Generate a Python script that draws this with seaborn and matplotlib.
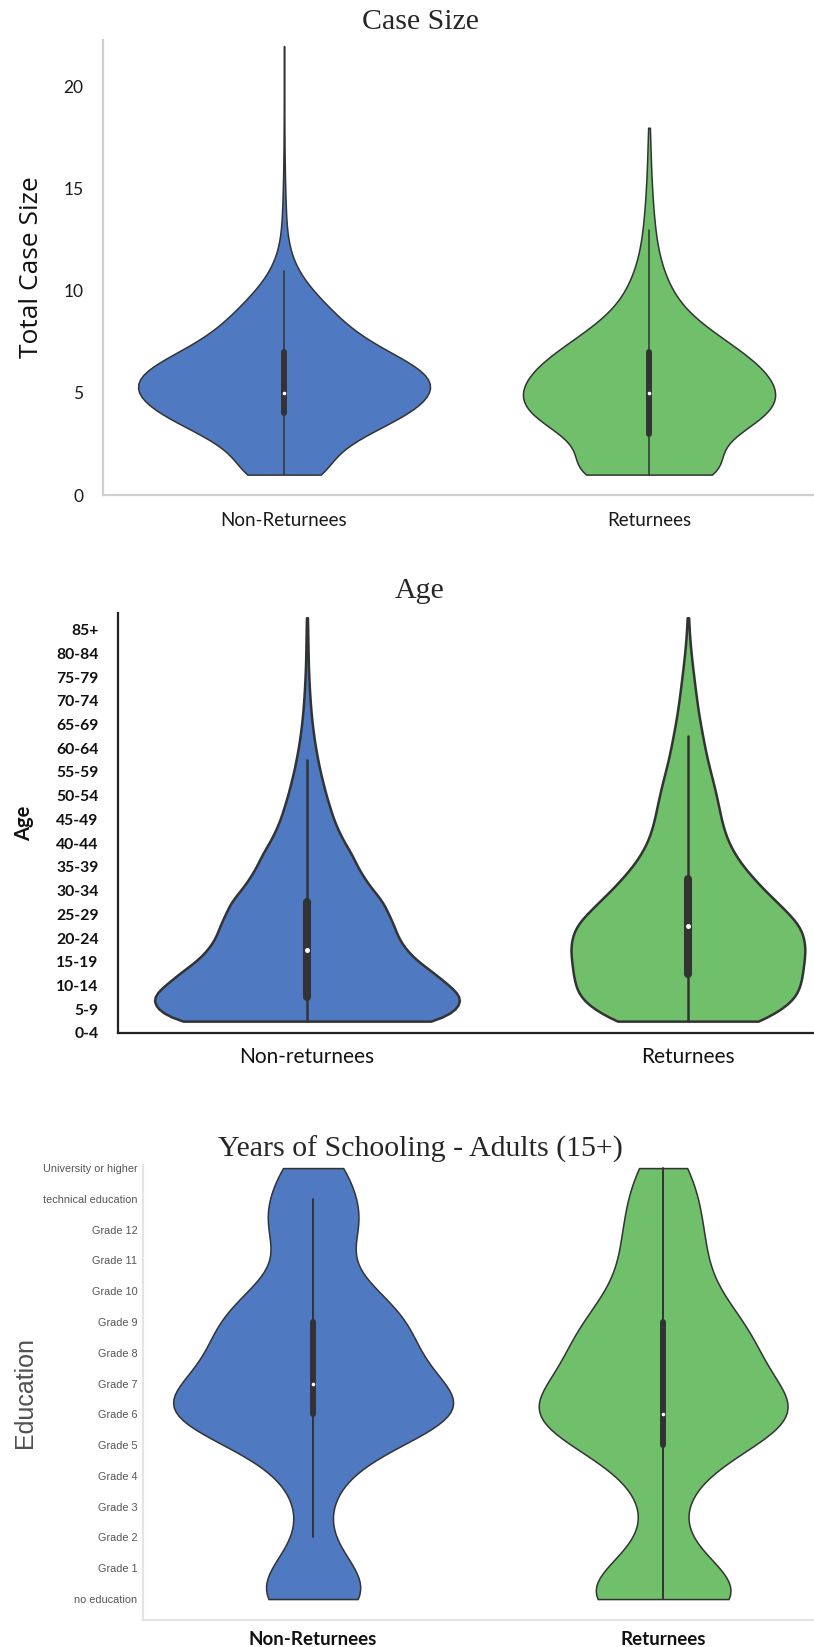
import numpy as np
import pandas as pd
import matplotlib
matplotlib.use("Agg")
import matplotlib.pyplot as plt
import seaborn as sns

sns.set_theme(style="white")
plt.rcParams["font.family"] = ["Lato", "DejaVu Sans"]

BLUE = "#4f79c0"
GREEN = "#6fbf6b"
OUTLINE = "#333333"
SANS = ["Lato", "DejaVu Sans"]
SERIF = ["Liberation Serif", "DejaVu Serif"]
ARIAL = ["Liberation Sans", "DejaVu Sans"]

# ---- Case size: number of cases with each total size ----
case_groups = ["Non-Returnees", "Returnees"]
case_size_values = [1, 2, 3, 4, 5, 6, 7, 8, 9, 10, 11, 12, 13, 14, 15, 16, 17, 18, 19, 20, 21, 22]
case_size_nonret = [420, 380, 700, 1100, 1300, 1280, 880, 580, 420, 240, 110, 45, 22, 15, 10, 6, 4, 3, 2, 2, 1, 1]
case_size_ret = [620, 300, 480, 760, 760, 700, 550, 360, 200, 130, 80, 50, 35, 25, 17, 12, 8, 6, 0, 0, 0, 0]
case_ticks = [0, 5, 10, 15, 20]

# ---- Age: persons per five-year band ----
age_groups = ["Non-returnees", "Returnees"]
age_labels = ["0-4", "5-9", "10-14", "15-19", "20-24", "25-29", "30-34", "35-39", "40-44",
              "45-49", "50-54", "55-59", "60-64", "65-69", "70-74", "75-79", "80-84", "85+"]
age_band_start = [0, 5, 10, 15, 20, 25, 30, 35, 40, 45, 50, 55, 60, 65, 70, 75, 80, 85]
age_band_mid = [2.5, 7.5, 12.5, 17.5, 22.5, 27.5, 32.5, 37.5, 42.5, 47.5, 52.5, 57.5,
                62.5, 67.5, 72.5, 77.5, 82.5, 87.5]
age_nonret = [1100, 1200, 950, 720, 650, 580, 420, 340, 230, 170, 120, 80, 50, 30, 18, 10, 7, 4]
age_ret = [540, 760, 770, 800, 780, 600, 440, 310, 240, 210, 175, 130, 100, 70, 50, 30, 13, 4]

# ---- Education of adults (15+): persons per level ----
edu_groups = ["Non-Returnees", "Returnees"]
edu_labels = ["no education", "Grade 1", "Grade 2", "Grade 3", "Grade 4", "Grade 5", "Grade 6",
              "Grade 7", "Grade 8", "Grade 9", "Grade 10", "Grade 11", "Grade 12",
              "technical education", "University or higher"]
edu_nonret = [46, 26, 6, 9, 16, 40, 115, 72, 58, 62, 40, 8, 36, 24, 24]
edu_ret = [85, 33, 8, 12, 20, 55, 116, 62, 65, 57, 31, 28, 27, 23, 21]


def long_frame(groups, values, counts_a, counts_b):
    vals = np.concatenate([np.repeat(values, counts_a), np.repeat(values, counts_b)])
    grp = [groups[0]] * int(np.sum(counts_a)) + [groups[1]] * int(np.sum(counts_b))
    return pd.DataFrame({"group": grp, "value": vals})


def violins(ax, df, groups, lw, box_w, whis_w, dot, bw):
    sns.violinplot(data=df, x="group", y="value", hue="group", order=groups,
                   hue_order=groups, palette=[BLUE, GREEN], saturation=1,
                   inner="box", cut=0, density_norm="area", common_norm=True,
                   width=0.8, linewidth=lw, linecolor=OUTLINE, bw_method=bw,
                   legend=False, ax=ax,
                   inner_kws=dict(box_width=box_w, whis_width=whis_w, marker="o",
                                  markersize=dot, markeredgewidth=0))
    ax.set_xlabel("")


W, H = 814, 1647
fig = plt.figure(figsize=(W / 100, H / 100), dpi=100)


def axes_px(left, top, right, bottom):
    return fig.add_axes([left / W, 1 - bottom / H, (right - left) / W, (bottom - top) / H])


# ---------------- Case size ----------------
ax1 = axes_px(103, 40, 814, 495)
df1 = long_frame(case_groups, case_size_values, case_size_nonret, case_size_ret)
violins(ax1, df1, case_groups, 1.1, 4.3, 1.1, 2.6, 0.32)
ax1.set_ylim(0, 22.3)
ax1.set_xlim(-0.496, 1.452)
ax1.set_yticks(case_ticks)
ax1.set_yticklabels([str(t) for t in case_ticks], fontsize=12.5, family=SANS, color="#1a1a1a")
ax1.set_xticks([0, 1])
ax1.set_xticklabels(case_groups, fontsize=13.5, family=SANS, color="#1a1a1a")
ax1.tick_params(axis="y", length=0, pad=14)
ax1.tick_params(axis="x", length=0, pad=12)
ax1.set_ylabel("Total Case Size", fontsize=19, family=["Open Sans", "DejaVu Sans"],
               color="#111111", labelpad=14)
for s in ("top", "right"):
    ax1.spines[s].set_visible(False)
for s in ("left", "bottom"):
    ax1.spines[s].set_color("#cfcfcf")
    ax1.spines[s].set_linewidth(1.6)
fig.text(420 / W, 1 - 22 / H, "Case Size", ha="center", va="center",
         fontsize=21.5, family=SERIF)

# ---------------- Age ----------------
ax2 = axes_px(118, 613, 814, 1033)
df2 = long_frame(age_groups, age_band_mid, age_nonret, age_ret)
violins(ax2, df2, age_groups, 1.8, 5.8, 1.8, 3.6, 0.2)
ax2.set_ylim(0, 88.5)
ax2.set_xlim(-0.496, 1.331)
ax2.set_yticks(age_band_start)
ax2.set_yticklabels(age_labels, fontsize=11.3, family=SANS, fontweight="bold", color="#111111")
ax2.set_yticks([10, 20, 30, 40, 50, 60, 70, 80], minor=True)
ax2.tick_params(axis="y", which="major", length=0, pad=14)
ax2.tick_params(axis="y", which="minor", left=True, length=3, width=1.4, color="#222222")
ax2.set_xticks([0, 1])
ax2.set_xticklabels(age_groups, fontsize=15, family=SANS, color="#111111")
ax2.tick_params(axis="x", length=0, pad=10)
ax2.set_ylabel("Age", fontsize=14.5, family=SANS, fontweight="bold", color="#111111",
               labelpad=16)
for s in ("top", "right"):
    ax2.spines[s].set_visible(False)
for s in ("left", "bottom"):
    ax2.spines[s].set_color("#222222")
    ax2.spines[s].set_linewidth(1.6)
fig.text(420 / W, 1 - 591 / H, "Age", ha="center", va="center",
         fontsize=21.5, family=SERIF)

# ---------------- Education ----------------
ax3 = axes_px(143, 1165, 814, 1620)
df3 = long_frame(edu_groups, list(range(len(edu_labels))), edu_nonret, edu_ret)
violins(ax3, df3, edu_groups, 1.1, 4.3, 1.4, 2.6, 0.26)
ax3.set_ylim(-0.68, 14.1)
ax3.set_xlim(-0.486, 1.431)
ax3.set_yticks(range(len(edu_labels)))
ax3.set_yticklabels(edu_labels, fontsize=7.8, family=ARIAL, color="#555555")
ax3.tick_params(axis="y", length=0, pad=4)
ax3.set_xticks([0, 1])
ax3.set_xticklabels(edu_groups, fontsize=13.5, family=SANS, fontweight="bold", color="#111111")
ax3.tick_params(axis="x", length=0, pad=8)
ax3.set_ylabel("Education", fontsize=18, family=ARIAL, color="#505050", labelpad=4)
for s in ("top", "right"):
    ax3.spines[s].set_visible(False)
for s in ("left", "bottom"):
    ax3.spines[s].set_color("#e4e4e4")
    ax3.spines[s].set_linewidth(1.6)
fig.text(420 / W, 1 - 1149 / H, "Years of Schooling - Adults (15+)", ha="center",
         va="center", fontsize=21.5, family=SERIF)

fig.savefig("out.png", dpi=100, facecolor="white")
